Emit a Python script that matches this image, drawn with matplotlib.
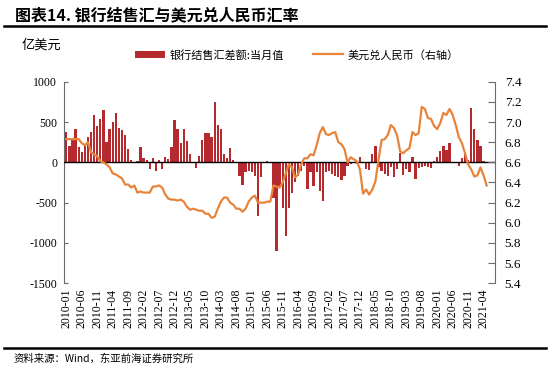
import matplotlib.pyplot as plt
from matplotlib.lines import Line2D
import numpy as np
import pandas as pd

plt.rcParams['font.family'] = ['Noto Sans CJK SC', 'DejaVu Sans']

# 2010-01 ... 2021-05 (结售汇数据只到2021-04)
months = pd.date_range('2010-01-01', periods=137, freq='MS').strftime('%Y-%m').tolist()

# 银行结售汇差额:当月值（亿美元）
net_settle = [
    375, 208, 290, 417, 188, 133, 229, 313, 375, 592, 446, 533,
    646, 258, 408, 500, 613, 429, 404, 342, 167, 33, -8, 17,
    196, 54, 33, -80, 50, -112, 29, -83, 67, 42, 188, 521,
    408, 238, 408, 263, 100, -8, -75, 83, 271, 367, 367, 313,
    750, 467, 417, 104, 50, 180, 33, -12, -167, -283, -117, -104,
    -125, -175, -667, -188, 8, 21, -8, -438, -1104, -300, -570, -908,
    -563, -375, -250, -167, -104, -42, -333, -125, -292, -125, -354, -479,
    -125, -104, -146, -167, -188, -217, -167, -42, -21, 8, -21, 62,
    -8, -83, -92, 104, 200, -63, -104, -146, -167, -60, -188, -83,
    117, -158, -83, -125, 71, -208, -75, -63, -50, -63, -75, 21,
    71, 146, 200, 158, 242, 8, -12, -42, 50, 117, 33, 675,
    417, 283, 200, 21,
]

# 美元兑人民币（右轴）
usd_cny = [
    6.83, 6.83, 6.83, 6.83, 6.83, 6.79, 6.77, 6.80, 6.70, 6.68, 6.66, 6.61,
    6.60, 6.58, 6.55, 6.49, 6.48, 6.46, 6.44, 6.38, 6.38, 6.35, 6.37, 6.30,
    6.31, 6.30, 6.30, 6.30, 6.36, 6.36, 6.37, 6.35, 6.28, 6.24, 6.23, 6.23,
    6.22, 6.23, 6.21, 6.16, 6.13, 6.14, 6.13, 6.12, 6.12, 6.09, 6.09, 6.05,
    6.06, 6.14, 6.21, 6.25, 6.25, 6.20, 6.18, 6.14, 6.14, 6.11, 6.14, 6.21,
    6.25, 6.27, 6.20, 6.20, 6.20, 6.21, 6.21, 6.37, 6.36, 6.35, 6.40, 6.49,
    6.58, 6.55, 6.45, 6.48, 6.58, 6.64, 6.64, 6.68, 6.67, 6.77, 6.89, 6.95,
    6.88, 6.87, 6.89, 6.90, 6.80, 6.78, 6.73, 6.60, 6.65, 6.63, 6.61, 6.53,
    6.29, 6.33, 6.28, 6.33, 6.41, 6.62, 6.82, 6.83, 6.87, 6.97, 6.94, 6.87,
    6.71, 6.69, 6.72, 6.74, 6.90, 6.87, 6.89, 7.15, 7.13, 7.04, 7.03, 6.96,
    6.93, 6.99, 7.09, 7.07, 7.13, 7.07, 6.97, 6.85, 6.79, 6.69, 6.58, 6.53,
    6.46, 6.47, 6.55, 6.47, 6.37,
]

left_ticks = [-1500, -1000, -500, 0, 500, 1000]
right_ticks = [5.4, 5.6, 5.8, 6.0, 6.2, 6.4, 6.6, 6.8, 7.0, 7.2, 7.4]

serif = 'Liberation Serif'
bar_color = '#B52A2F'
line_color = '#E8843A'
spine_color = '#6b6b6b'

fig = plt.figure(figsize=(5.5, 3.69), dpi=100)
ax = fig.add_axes([0.1164, 0.2323, 0.7836, 0.5463])
ax2 = ax.twinx()

x = np.arange(len(months))
bars = ax.bar(x[:len(net_settle)], net_settle, width=0.75, color=bar_color,
              label='银行结售汇差额:当月值', zorder=2)
ax.axhline(0, color='black', lw=1, zorder=3)
line, = ax2.plot(x, usd_cny, color=line_color, lw=1.6, label='美元兑人民币（右轴）')

ax.set_xlim(-0.75, 138.7)
ax.set_ylim(-1500, 1000)
ax2.set_ylim(5.4, 7.4)

ax.set_yticks(left_ticks)
ax.set_yticklabels([str(v) for v in left_ticks], fontfamily=serif, fontsize=8.5)
ax2.set_yticks(right_ticks)
ax2.set_yticklabels([f'{v:.1f}' for v in right_ticks], fontfamily=serif, fontsize=9.5)
ax.set_xticks(x[::5])
ax.set_xticklabels(months[::5], rotation=90, fontfamily=serif, fontsize=8.5)

ax.tick_params(axis='x', length=0, pad=4)
ax.tick_params(axis='y', direction='in', length=3, pad=5, color=spine_color)
ax2.tick_params(axis='y', direction='in', length=5, pad=7, color=spine_color)

for a in (ax, ax2):
    a.spines['top'].set_visible(False)
    a.spines['bottom'].set_visible(False)
ax.spines['right'].set_visible(False)
ax2.spines['left'].set_visible(False)
ax.spines['left'].set_color(spine_color)
ax2.spines['right'].set_color(spine_color)

fig.legend(handles=[bars, line], loc='center', bbox_to_anchor=(0.54, 0.851),
           ncol=2, frameon=False, fontsize=8, handlelength=2.7,
           columnspacing=2.6, handletextpad=0.4)

fig.text(0.075, 0.878, '亿美元', fontsize=9.5, ha='center', va='center')

fig.text(0.027, 0.959, '图表14. 银行结售汇与美元兑人民币汇率',
         fontsize=11.5, fontweight='bold', va='center')
fig.add_artist(Line2D([0.007, 0.993], [0.93, 0.93], color='black', lw=1.8))
fig.add_artist(Line2D([0.007, 0.993], [0.057, 0.057], color='black', lw=1.8))
fig.text(0.024, 0.027, '资料来源：Wind，东亚前海证券研究所', fontsize=7.5, va='center')

fig.savefig('out.png', dpi=100)
